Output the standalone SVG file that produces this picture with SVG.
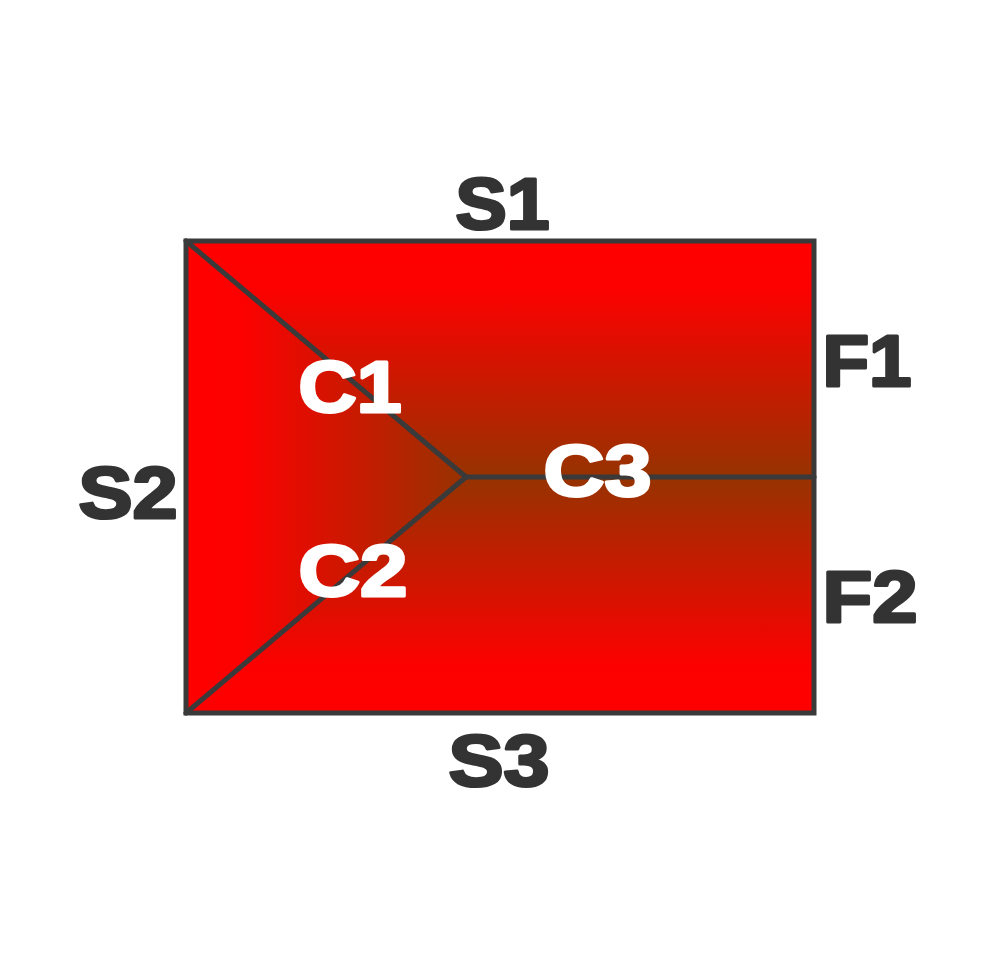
<svg xmlns="http://www.w3.org/2000/svg" width="1000" height="955" viewBox="0 0 1000 955">
<style>
.lbl{font-family:"Liberation Sans",Arial,sans-serif;font-weight:bold;font-size:72px;fill:#333333;stroke:#333333;stroke-width:3;stroke-linejoin:round;text-anchor:middle}
.in{fill:#ffffff;stroke:#ffffff}
.edge{stroke:#3a3a3a;stroke-width:5;fill:none;stroke-linecap:round}
</style>
<defs>
<linearGradient id="gTop" gradientUnits="userSpaceOnUse" x1="0" y1="241" x2="0" y2="477">
<stop offset="0" stop-color="#ff0000"/><stop offset="0.2" stop-color="#fc0000"/><stop offset="1" stop-color="#963300"/>
</linearGradient>
<linearGradient id="gBot" gradientUnits="userSpaceOnUse" x1="0" y1="477" x2="0" y2="713">
<stop offset="0" stop-color="#963300"/><stop offset="0.8" stop-color="#fc0000"/><stop offset="1" stop-color="#ff0000"/>
</linearGradient>
<linearGradient id="gLeft" gradientUnits="userSpaceOnUse" x1="186" y1="0" x2="466" y2="0">
<stop offset="0" stop-color="#ff0000"/><stop offset="0.2" stop-color="#fc0000"/><stop offset="1" stop-color="#963300"/>
</linearGradient>
</defs>
<g id="roof">
<polygon points="186,241 814,241 814,477 466,477" fill="url(#gTop)"/>
<polygon points="466,477 814,477 814,713 186,713" fill="url(#gBot)"/>
<polygon points="186,241 466,477 186,713" fill="url(#gLeft)"/>
</g>
<g id="connectors">
<line class="edge" x1="186" y1="241" x2="466" y2="477"/>
<line class="edge" x1="186" y1="713" x2="466" y2="477"/>
<line class="edge" x1="466" y1="477" x2="814" y2="477"/>
<rect class="edge" x="186" y="241" width="628" height="472" stroke-linecap="butt"/>
</g>
<g id="S1"><text class="lbl" x="502.5" y="229" textLength="94" lengthAdjust="spacingAndGlyphs">S1</text></g>
<g id="S2"><text class="lbl" x="128" y="518" textLength="99" lengthAdjust="spacingAndGlyphs">S2</text></g>
<g id="S3"><text class="lbl" x="499" y="786" textLength="101" lengthAdjust="spacingAndGlyphs">S3</text></g>
<g id="F1"><text class="lbl" x="867" y="386" textLength="89" lengthAdjust="spacingAndGlyphs">F1</text></g>
<g id="F2"><text class="lbl" x="870" y="622" textLength="95" lengthAdjust="spacingAndGlyphs">F2</text></g>
<g id="C1"><text class="lbl in" x="350" y="412" textLength="103" lengthAdjust="spacingAndGlyphs">C1</text></g>
<g id="C2"><text class="lbl in" x="353" y="596" textLength="109" lengthAdjust="spacingAndGlyphs">C2</text></g>
<g id="C3"><text class="lbl in" x="597.5" y="496" textLength="108" lengthAdjust="spacingAndGlyphs">C3</text></g>
</svg>
